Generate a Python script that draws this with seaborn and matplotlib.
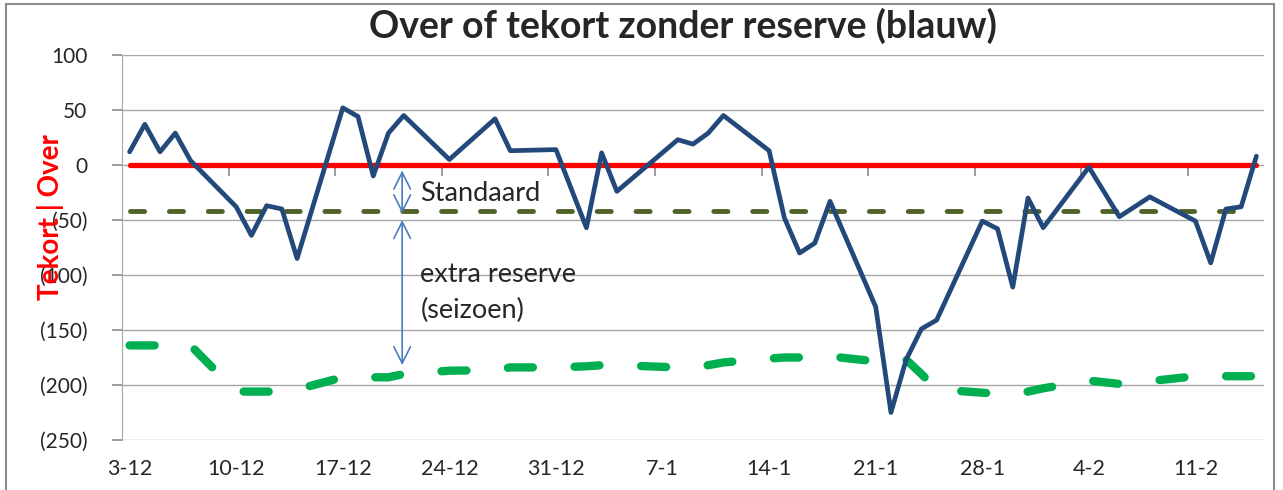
import numpy as np
import pandas as pd
import matplotlib.pyplot as plt
import seaborn as sns
from matplotlib.ticker import FuncFormatter
from matplotlib.patches import Rectangle

#%% data (dagen geteld vanaf 3-12)
dagen   = [0, 1, 2, 3, 4, 7, 8, 9, 10, 11, 14, 15, 16, 17, 18, 21, 24, 25, 28,
           30, 31, 32, 36, 37, 38, 39, 42, 43, 44, 45, 46, 49, 50, 51, 52, 53,
           56, 57, 58, 59, 60, 63, 65, 67, 70, 71, 72, 73, 74]
saldo   = [12, 37, 12, 29, 4, -38, -64, -37, -40, -85, 52, 44, -10, 29, 45, 5, 42, 13, 14,
           -57, 11, -24, 23, 19, 29, 45, 13, -48, -80, -71, -33, -129, -225, -177, -149, -141,
           -51, -58, -111, -30, -57, -2, -47, -29, -51, -89, -40, -38, 8]
seizoen = [-164, -164, -164, -164, -164, -206, -206, -206, -206, -204, -193, -193, -193, -193, -190,
           -187, -186.5, -184, -184, -183, -182, -182, -184, -184, -182, -179.5, -176, -175, -175,
           -175, -174, -178.5, -179, -177, -190, -204, -207, -208, -208, -206, -203, -196, -199,
           -196.5, -192, -192, -192, -192, -192]
standaard = -42
tick_dagen  = [0, 7, 14, 21, 28, 35, 42, 49, 56, 63, 70]
tick_labels = ['3-12', '10-12', '17-12', '24-12', '31-12', '7-1', '14-1', '21-1', '28-1', '4-2', '11-2']

df = pd.DataFrame({'dag': dagen, 'saldo': saldo, 'seizoen': seizoen})
df['nul'] = 0
df['standaard'] = standaard

#%% plot
sns.set_style('white')
plt.rcParams['font.family'] = ['Lato', 'DejaVu Sans']

W, H = 1283, 490
fig = plt.figure(figsize=(W/100, H/100), dpi=100)
ax = fig.add_axes([122/W, 50/H, 1142/W, 385/H])

sns.lineplot(data=df, x='dag', y='seizoen', ax=ax, color='#00B050', lw=6,
             linestyle=(0, (3, 5)), dash_capstyle='round')
sns.lineplot(data=df, x='dag', y='standaard', ax=ax, color='#4F6228', lw=3.5,
             linestyle=(0, (2.9, 5.1)), dash_capstyle='round')
sns.lineplot(data=df, x='dag', y='nul', ax=ax, color='#FF0000', lw=3.8)
sns.lineplot(data=df, x='dag', y='saldo', ax=ax, color='#22497A', lw=3.4)

ax.set_xlim(-0.5, 74.5)
ax.set_ylim(-250, 100)
ax.set_yticks(np.arange(-250, 101, 50))
ax.yaxis.set_major_formatter(FuncFormatter(lambda v, p: '(%d)' % -v if v < 0 else '%d' % v))
ax.set_xlabel('')
ax.set_ylabel('')

ax.grid(axis='y', color='#A6A6A6', lw=1)
ax.set_axisbelow(True)
for s in ['top', 'right']:
    ax.spines[s].set_visible(False)
ax.spines['left'].set_color('#A6A6A6')
ax.tick_params(axis='y', left=True, length=7, width=1.2, color='#8C8C8C', pad=18,
               labelsize=15, labelcolor='#262626')

# x axis crosses at 0: tick marks between the weeks on the zero line
ax.spines['bottom'].set_position(('data', 0))
ax.spines['bottom'].set_visible(False)
ax.set_xticks([7*k - 0.5 for k in range(1, 11)])
ax.tick_params(axis='x', bottom=True, length=8, width=1.2, color='#8C8C8C', labelbottom=False)

# date labels at the bottom of the plot
sec = ax.secondary_xaxis('bottom')
sec.set_xticks(tick_dagen, tick_labels)
sec.tick_params(length=0, pad=14, labelsize=15.5, labelcolor='#262626')
sec.spines['bottom'].set_visible(False)

ax.text(-0.063, 0.579, 'Tekort | Over', transform=ax.transAxes, rotation=90,
        ha='center', va='center', color='#FF0000', fontsize=20, fontweight='bold')
fig.text(683/W, 1 - 38/H, 'Over of tekort zonder reserve (blauw)', ha='center',
         va='baseline', fontsize=27, fontweight='bold')

# annotations
arrow = dict(arrowstyle='<->,head_length=1.2,head_width=0.6', color='#4A7EBB', lw=1.2,
             shrinkA=0, shrinkB=0)
ax.annotate('', xy=(17.9, -5), xytext=(17.9, standaard - 2), arrowprops=arrow)
ax.annotate('', xy=(17.9, -50), xytext=(17.9, -182), arrowprops=arrow)
ax.text(19.1, -25.5, 'Standaard', va='center', fontsize=19.5)
ax.text(19.1, -100, 'extra reserve', va='center', fontsize=19.5)
ax.text(19.1, -132, '(seizoen)', va='center', fontsize=19.5)

fig.add_artist(Rectangle((6/W, -0.1), (1274-6)/W, 1.1 - 4/H, transform=fig.transFigure,
                         fill=False, edgecolor='#8C8C8C', lw=1.5))

fig.savefig('out.png', dpi=100)
